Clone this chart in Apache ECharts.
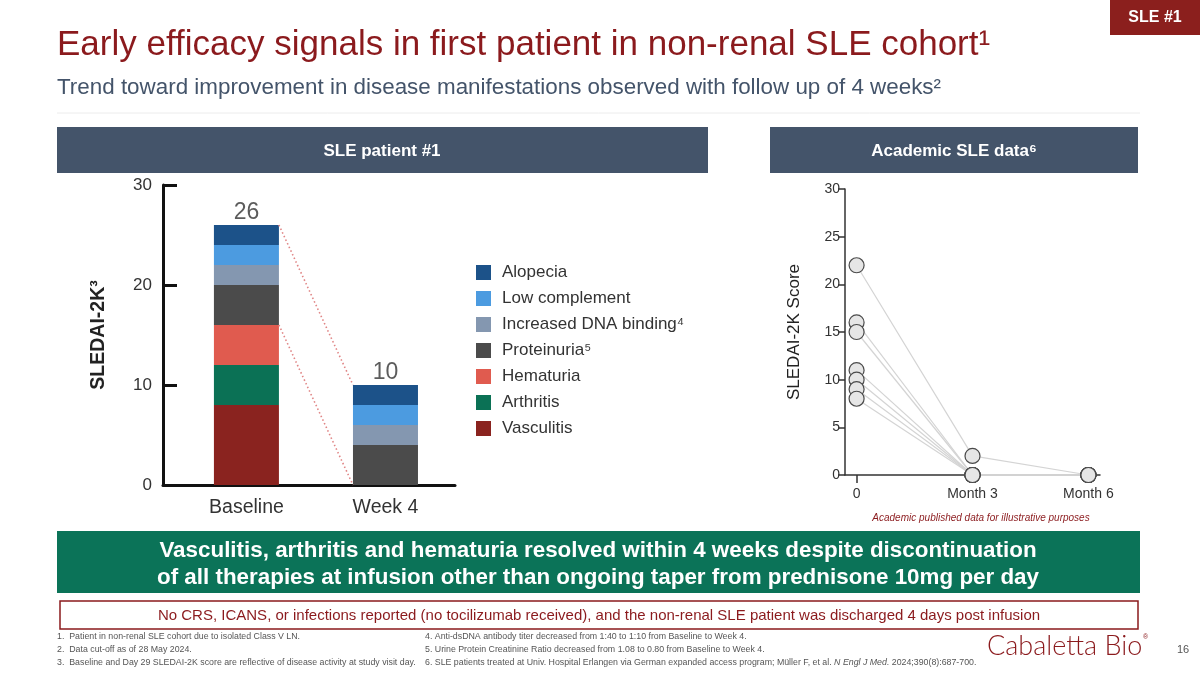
<!DOCTYPE html>
<html><head><meta charset="utf-8">
<script src="https://cdn.jsdelivr.net/npm/echarts@6/dist/echarts.min.js"></script>
<style>html,body{margin:0;padding:0;background:#fff}#c{width:1200px;height:675px}</style>
</head><body><div id="c"></div>
<script>
// ---------- data ----------
const timepoints = ['Baseline', 'Week 4'];
const componentNames = ['Vasculitis', 'Arthritis', 'Hematuria', 'Proteinuria⁵', 'Increased DNA binding⁴', 'Low complement', 'Alopecia'];
const vasculitis = [8, 0];
const arthritis = [4, 0];
const hematuria = [4, 0];
const proteinuria = [4, 4];
const dnaBinding = [2, 2];
const lowComplement = [2, 2];
const alopecia = [2, 2];
const leftTicks = [0, 10, 20, 30];

const academicLabels = ['0', 'Month 3', 'Month 6'];
const academicMonths = [0, 3, 6];
const patient1 = [22, 2, 0];
const patient2 = [16, 0, 0];
const patient3 = [15, 0, 0];
const patient4 = [11, 0, 0];
const patient5 = [10, 0, 0];
const patient6 = [9, 0, 0];
const patient7 = [8, 0, 0];

// ---------- build ----------
const componentValues = [vasculitis, arthritis, hematuria, proteinuria, dnaBinding, lowComplement, alopecia];
const componentColors = ['#8a231f', '#0b7155', '#e05b4f', '#4b4b4b', '#8497b0', '#4c9be0', '#1c5289'];
const BAR_W = 65;
const FONT = '"Liberation Sans", Arial, sans-serif';

const cum = [0, 0];
const barSeries = componentValues.map((vals, k) => {
  const data = vals.map((v, i) => { const lo = cum[i]; cum[i] += v; return [i, lo, cum[i]]; });
  return {
    type: 'custom', name: componentNames[k], xAxisIndex: 0, yAxisIndex: 0,
    itemStyle: { color: componentColors[k] },
    encode: { x: 0, y: [1, 2] },
    renderItem: (params, api) => {
      const x = api.value(0), lo = api.value(1), hi = api.value(2);
      if (hi <= lo) return;
      const pt = api.coord([x, hi]), pb = api.coord([x, lo]);
      return { type: 'rect', shape: { x: pt[0] - BAR_W / 2, y: pt[1], width: BAR_W, height: pb[1] - pt[1] }, style: api.style() };
    },
    data
  };
});
const totals = cum.slice();
const resolvedTop = timepoints.map((t, i) => vasculitis[i] + arthritis[i] + hematuria[i]);

const connectorSeries = {
  type: 'custom', xAxisIndex: 0, yAxisIndex: 0, silent: true, z: 3,
  encode: { x: [0, 2], y: [1, 3] },
  renderItem: (params, api) => {
    const a = api.coord([api.value(0), api.value(1)]);
    const b = api.coord([api.value(2), api.value(3)]);
    return { type: 'line', shape: { x1: a[0] + BAR_W / 2, y1: a[1], x2: b[0] - BAR_W / 2, y2: b[1] },
      style: { stroke: '#e08585', lineWidth: 1.6, lineDash: [1.5, 2.5] } };
  },
  data: [[0, totals[0], 1, totals[1]], [0, resolvedTop[0], 1, resolvedTop[1]]]
};

const totalSeries = {
  type: 'scatter', xAxisIndex: 0, yAxisIndex: 0, symbolSize: 0, silent: true,
  label: { show: true, position: 'top', distance: 1, formatter: p => p.value[1], fontSize: 23, color: '#333', fontFamily: FONT },
  data: totals.map((t, i) => [i, t])
};

const patients = [patient1, patient2, patient3, patient4, patient5, patient6, patient7];
const patientSeries = patients.map(sc => ({
  type: 'line', xAxisIndex: 1, yAxisIndex: 1, clip: false,
  symbol: 'circle', symbolSize: 15,
  lineStyle: { color: '#d4d4d4', width: 1.2 },
  itemStyle: { color: '#e6e6e6', borderColor: '#4a4a4a', borderWidth: 1.2 },
  data: academicMonths.map((m, j) => [m, sc[j]])
}));

const t = (x, y, text, font, fill, align, extra) => Object.assign({
  type: 'text', x, y, silent: true,
  style: { text, font, fill, textAlign: align || 'left', textVerticalAlign: 'middle' }
}, extra || {});

const graphic = [
  { type: 'rect', shape: { x: 1110, y: 0, width: 90, height: 35 }, style: { fill: '#8b1f1d' } },
  t(1155, 18, 'SLE #1', 'bold 16px ' + FONT, '#fff', 'center'),
  t(57, 45, 'Early efficacy signals in first patient in non-renal SLE cohort¹', '35px ' + FONT, '#8b1a1d'),
  t(57, 88, 'Trend toward improvement in disease manifestations observed with follow up of 4 weeks²', '22.4px ' + FONT, '#44546a'),
  { type: 'line', shape: { x1: 57, y1: 113, x2: 1140, y2: 113 }, style: { stroke: '#ececec', lineWidth: 1 } },
  { type: 'rect', shape: { x: 57, y: 127, width: 651, height: 46 }, style: { fill: '#44546a' } },
  t(382, 151, 'SLE patient #1', 'bold 17px ' + FONT, '#fff', 'center'),
  { type: 'rect', shape: { x: 770, y: 127, width: 368, height: 46 }, style: { fill: '#44546a' } },
  t(954, 151, 'Academic SLE data⁶', 'bold 17px ' + FONT, '#fff', 'center'),
  t(981, 518, 'Academic published data for illustrative purposes', 'italic 10px ' + FONT, '#8b1a1d', 'center'),
  { type: 'rect', shape: { x: 57, y: 531, width: 1083, height: 62 }, style: { fill: '#0b7358' } },
  t(598, 551, 'Vasculitis, arthritis and hematuria resolved within 4 weeks despite discontinuation', 'bold 22.4px ' + FONT, '#fff', 'center'),
  t(598, 578, 'of all therapies at infusion other than ongoing taper from prednisone 10mg per day', 'bold 22.4px ' + FONT, '#fff', 'center'),
  { type: 'rect', shape: { x: 60, y: 601, width: 1078, height: 28 }, style: { fill: '#fff', stroke: '#8b1a1d', lineWidth: 1.5 } },
  t(599, 615.5, 'No CRS, ICANS, or infections reported (no tocilizumab received), and the non-renal SLE patient was discharged 4 days post infusion', '15px ' + FONT, '#8b1a1d', 'center'),
  t(57, 637, '1.  Patient in non-renal SLE cohort due to isolated Class V LN.', '8.8px ' + FONT, '#555'),
  t(57, 650, '2.  Data cut-off as of 28 May 2024.', '8.8px ' + FONT, '#555'),
  t(57, 663, '3.  Baseline and Day 29 SLEDAI-2K score are reflective of disease activity at study visit day.', '8.8px ' + FONT, '#555'),
  t(425, 637, '4. Anti-dsDNA antibody titer decreased from 1:40 to 1:10 from Baseline to Week 4.', '8.8px ' + FONT, '#555'),
  t(425, 650, '5. Urine Protein Creatinine Ratio decreased from 1.08 to 0.80 from Baseline to Week 4.', '8.8px ' + FONT, '#555'),
  { type: 'text', x: 425, y: 663, silent: true, style: {
      text: '{n|6. SLE patients treated at Univ. Hospital Erlangen via German expanded access program; Müller F, et al. }{i|N Engl J Med.}{n| 2024;390(8):687-700.}',
      textVerticalAlign: 'middle',
      rich: { n: { font: '8.8px ' + FONT, fill: '#555' }, i: { font: 'italic 8.8px ' + FONT, fill: '#555' } } } },
  t(987, 646, 'Cabaletta Bio', '300 27px Lato, "Open Sans", sans-serif', '#8b1a1d'),
  t(1143, 637, '®', '7px ' + FONT, '#8b1a1d'),
  t(1177, 650, '16', '11px ' + FONT, '#555')
];

const option = {
  animation: false,
  backgroundColor: '#fff',
  textStyle: { fontFamily: FONT },
  legend: {
    orient: 'vertical', left: 471, top: 259, itemWidth: 15, itemHeight: 15, itemGap: 9,
    icon: 'rect', selectedMode: false,
    data: componentNames.slice().reverse(),
    textStyle: { fontSize: 17, color: '#333', fontFamily: FONT, padding: [0, 0, 0, 6] }
  },
  grid: [
    { left: 163, top: 185, width: 292, height: 300 },
    { left: 845, top: 189, width: 255, height: 286 }
  ],
  xAxis: [
    { gridIndex: 0, type: 'value', min: -0.6, max: 1.5,
      axisLine: { show: true, onZero: false, lineStyle: { color: '#111', width: 3 } },
      axisTick: { show: false }, splitLine: { show: false },
      axisLabel: { customValues: [0, 1], formatter: v => timepoints[Math.round(v)], fontSize: 19.5, color: '#333', margin: 13 } },
    { gridIndex: 1, type: 'value', min: -0.3, max: 6.3,
      axisLine: { show: true, onZero: false, lineStyle: { color: '#333', width: 1.5 } },
      axisTick: { show: true, customValues: academicMonths, length: 8, lineStyle: { color: '#333', width: 1.5 } },
      splitLine: { show: false },
      axisLabel: { customValues: academicMonths, formatter: v => academicLabels[academicMonths.indexOf(Math.round(v))], fontSize: 14, color: '#333', margin: 12 } }
  ],
  yAxis: [
    { gridIndex: 0, type: 'value', min: 0, max: 30, interval: 10,
      name: 'SLEDAI-2K³', nameLocation: 'middle', nameGap: 54, nameRotate: 90,
      nameTextStyle: { fontSize: 19.5, fontWeight: 'bold', color: '#222' },
      axisLine: { show: true, onZero: false, lineStyle: { color: '#111', width: 3 } },
      axisTick: { show: true, inside: true, length: 14, lineStyle: { color: '#111', width: 3 } },
      splitLine: { show: false },
      axisLabel: { fontSize: 17, color: '#333', margin: 11 } },
    { gridIndex: 1, type: 'value', min: 0, max: 30, interval: 5,
      name: 'SLEDAI-2K Score', nameLocation: 'middle', nameGap: 42, nameRotate: 90,
      nameTextStyle: { fontSize: 17, color: '#222' },
      axisLine: { show: true, onZero: false, lineStyle: { color: '#333', width: 1.5 } },
      axisTick: { show: true, length: 7, lineStyle: { color: '#333', width: 1.5 } },
      splitLine: { show: false },
      axisLabel: { fontSize: 14, color: '#333', margin: 5 } }
  ],
  graphic,
  series: [...barSeries, connectorSeries, totalSeries, ...patientSeries]
};
const chart = echarts.init(document.getElementById('c'), null, { renderer: 'canvas' });
chart.setOption(option);
</script></body></html>
